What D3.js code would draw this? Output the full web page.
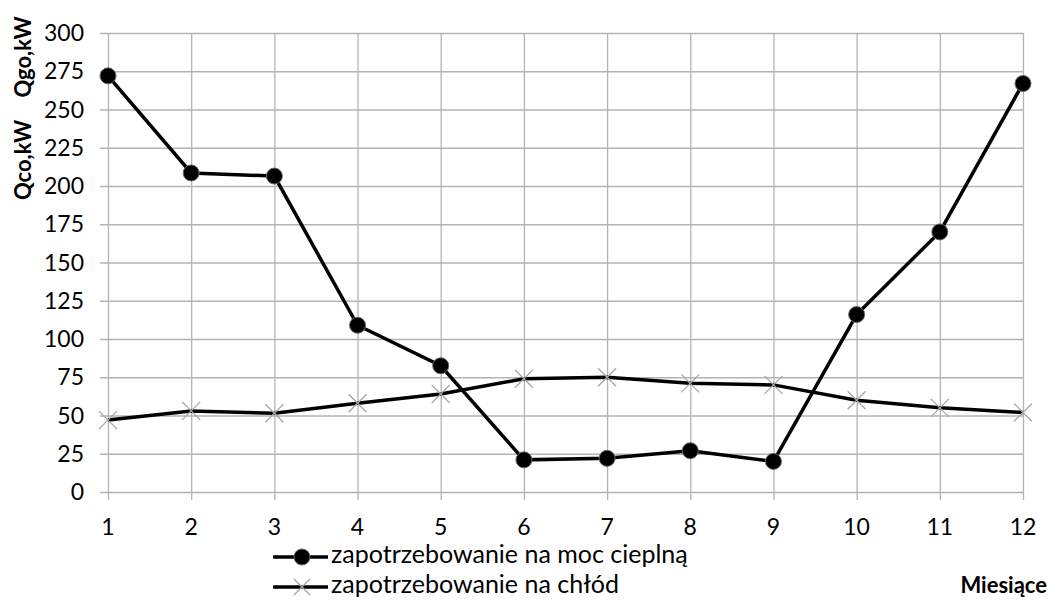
<!DOCTYPE html>
<html>
<head>
    <meta charset="utf-8">
    <script src="https://d3js.org/d3.v7.min.js"></script>
    <style>
        body { margin: 0; padding: 0; background: #fff; overflow: hidden; }
        text { font-family: Lato, "Open Sans", sans-serif; fill: #000; }
    </style>
</head>
<body>
    <script>
        var months = [1, 2, 3, 4, 5, 6, 7, 8, 9, 10, 11, 12];
        var heat = [272, 208.5, 206.5, 109, 82.5, 21, 22, 27, 20, 116, 170, 267];
        var cold = [47, 53, 51.5, 58, 64, 74, 75, 71, 70, 60, 55, 52];
        var yTicks = [0, 25, 50, 75, 100, 125, 150, 175, 200, 225, 250, 275, 300];
        var seriesNames = ["zapotrzebowanie na moc cieplną", "zapotrzebowanie na chłód"];

        var width = 1050, height = 601;
        var svg = d3.select("body").append("svg")
            .attr("width", width)
            .attr("height", height);

        var x = d3.scaleLinear().domain([1, 12]).range([108, 1023]);
        var y = d3.scaleLinear().domain([0, 300]).range([492, 33]);
        var grid = "#b3b3b3";

        // grid
        svg.append("g").selectAll("line").data(yTicks).join("line")
            .attr("x1", 100).attr("x2", x(12))
            .attr("y1", d => y(d) + 0.5).attr("y2", d => y(d) + 0.5)
            .attr("stroke", grid).attr("stroke-width", 1.3);
        svg.append("g").selectAll("line").data(months).join("line")
            .attr("x1", d => x(d) + 0.5).attr("x2", d => x(d) + 0.5)
            .attr("y1", y(300)).attr("y2", y(0) + 8)
            .attr("stroke", grid).attr("stroke-width", 1.3);

        // tick labels
        svg.append("g").selectAll("text").data(yTicks).join("text")
            .attr("x", 84).attr("y", d => y(d))
            .attr("dy", "0.35em")
            .attr("text-anchor", "end")
            .attr("font-size", 23)
            .text(d => d);
        svg.append("g").selectAll("text").data(months).join("text")
            .attr("x", d => x(d)).attr("y", 535)
            .attr("text-anchor", "middle")
            .attr("font-size", 23)
            .text(d => d);

        // axis titles
        svg.append("text")
            .attr("transform", "translate(31,57) rotate(-90)")
            .attr("text-anchor", "middle")
            .attr("font-size", 22)
            .attr("font-weight", "bold")
            .text("Qgo,kW");
        svg.append("text")
            .attr("transform", "translate(31,160) rotate(-90)")
            .attr("text-anchor", "middle")
            .attr("font-size", 22)
            .attr("font-weight", "bold")
            .text("Qco,kW");

        svg.append("text")
            .attr("x", 1047).attr("y", 593)
            .attr("text-anchor", "end")
            .attr("font-size", 22)
            .attr("font-weight", "bold")
            .text("Miesiące");

        var line = d3.line().x((d, i) => x(months[i])).y(d => y(d));

        // cold series
        svg.append("path").datum(cold)
            .attr("d", line).attr("fill", "none")
            .attr("stroke", "#000").attr("stroke-width", 3.5);
        function cross(g, cx, cy, s) {
            g.append("path")
                .attr("d", `M${cx - s},${cy - s}L${cx + s},${cy + s}M${cx - s},${cy + s}L${cx + s},${cy - s}`)
                .attr("stroke", "#a6a6a6").attr("stroke-width", 1.3).attr("fill", "none");
        }
        var crossG = svg.append("g");
        cold.forEach((d, i) => cross(crossG, x(months[i]), y(d), 9));

        // heat series
        svg.append("path").datum(heat)
            .attr("d", line).attr("fill", "none")
            .attr("stroke", "#000").attr("stroke-width", 3.5);
        svg.append("g").selectAll("circle").data(heat).join("circle")
            .attr("cx", (d, i) => x(months[i])).attr("cy", d => y(d))
            .attr("r", 8)
            .attr("fill", "#000").attr("stroke", "#666").attr("stroke-width", 1);

        // legend
        var lg = svg.append("g");
        lg.append("line").attr("x1", 273).attr("x2", 328).attr("y1", 557).attr("y2", 557)
            .attr("stroke", "#000").attr("stroke-width", 3.5);
        lg.append("circle").attr("cx", 302).attr("cy", 557).attr("r", 8)
            .attr("fill", "#000").attr("stroke", "#666");
        lg.append("text").attr("x", 331).attr("y", 563)
            .attr("font-size", 25).text(seriesNames[0]);
        lg.append("line").attr("x1", 273).attr("x2", 328).attr("y1", 587).attr("y2", 587)
            .attr("stroke", "#000").attr("stroke-width", 3.5);
        cross(lg, 302, 587, 8);
        lg.append("text").attr("x", 331).attr("y", 593)
            .attr("font-size", 25).text(seriesNames[1]);
    </script>
</body>
</html>
